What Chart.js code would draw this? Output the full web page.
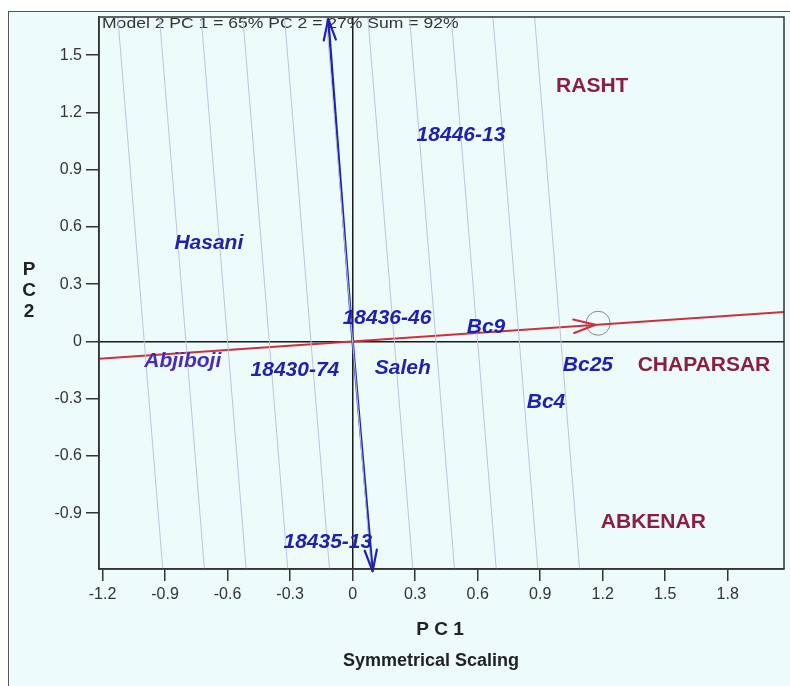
<!DOCTYPE html>
<html>
<head>
<meta charset="utf-8">
<title>GGE biplot - Symmetrical Scaling</title>
<script src="https://cdn.jsdelivr.net/npm/chart.js@4.4.1/dist/chart.umd.min.js"></script>
<style>
  html, body { margin: 0; padding: 0; background: #fff; }
  #wrap { position: relative; width: 790px; height: 686px; }
</style>
</head>
<body>
<div id="wrap"><canvas id="biplot" width="790" height="686"></canvas></div>
<script>
/* biplot data */
const xTicks = [-1.2, -0.9, -0.6, -0.3, 0, 0.3, 0.6, 0.9, 1.2, 1.5, 1.8];
const yTicks = [-0.9, -0.6, -0.3, 0, 0.3, 0.6, 0.9, 1.2, 1.5];
const xRange = [-1.217, 2.07];
const yRange = [-1.193, 1.70];

const genotypes = ['18446-13', 'Hasani', '18436-46', 'Bc9', 'Abjiboji', '18430-74', 'Saleh', 'Bc25', 'Bc4', '18435-13'];
const genoX = [0.52, -0.69, 0.165, 0.64, -0.815, -0.277, 0.241, 1.129, 0.928, -0.119];
const genoY = [1.083, 0.517, 0.123, 0.076, -0.102, -0.149, -0.139, -0.123, -0.317, -1.051];

const environments = ['RASHT', 'CHAPARSAR', 'ABKENAR'];
const envX = [1.15, 1.686, 1.443];
const envY = [1.336, -0.123, -0.947];

// average environment axis (red) and the two blue vectors
const redVec = [1.166, 0.087];
const blueUp = [-0.117, 1.69];
const blueDown = [0.096, -1.205];
const ringPoint = [1.178, 0.095];
// where the thin guide lines cut PC1 = axis at PC2 = 0
const guideCross = [-1.0, -0.8, -0.6, -0.4, -0.2, 0, 0.2, 0.4, 0.6, 0.8, 1.0];

const FONT = "'Liberation Sans', Arial, Helvetica, sans-serif";
const BLUE = '#1f22b0';
const RED = '#cf2f3f';
const MAROON = '#8c1f40';

const slope = redVec[1] / redVec[0];

// guide lines perpendicular to the red axis (in data units)
const guideSets = guideCross.map(c => ({
    data: [{ x: c - slope * yRange[1], y: yRange[1] }, { x: c - slope * yRange[0], y: yRange[0] }],
    showLine: true,
    borderColor: '#bcc6da',
    borderWidth: 1,
    pointRadius: 0
}));

function arrowHead(ctx, x0, y0, x1, y1, len, spread, color, width) {
    const ang = Math.atan2(y1 - y0, x1 - x0);
    ctx.save();
    ctx.strokeStyle = color;
    ctx.lineWidth = width;
    ctx.lineCap = 'round';
    ctx.lineJoin = 'round';
    ctx.beginPath();
    ctx.moveTo(x1 - len * Math.cos(ang - spread), y1 - len * Math.sin(ang - spread));
    ctx.lineTo(x1, y1);
    ctx.lineTo(x1 - len * Math.cos(ang + spread), y1 - len * Math.sin(ang + spread));
    ctx.stroke();
    ctx.restore();
}

const biplotDecor = {
    id: 'biplotDecor',
    beforeDraw(chart) {
        const { ctx, width, height } = chart;
        ctx.save();
        ctx.fillStyle = '#ffffff';
        ctx.fillRect(0, 0, width, height);
        ctx.fillStyle = '#edfbfb';
        ctx.fillRect(8, 11, width - 8, height - 11);
        ctx.strokeStyle = '#555';
        ctx.lineWidth = 1;
        ctx.strokeRect(8.5, 11.5, width, height);
        ctx.restore();
    },
    beforeDatasetsDraw(chart) {
        // header line, a bit wider than tall like in the original
        const ctx = chart.ctx;
        ctx.save();
        ctx.fillStyle = '#333';
        ctx.font = '15px ' + FONT;
        ctx.textBaseline = 'middle';
        ctx.textAlign = 'left';
        ctx.translate(102, 24);
        ctx.scale(1.17, 1);
        ctx.fillText('Model 2 PC 1 = 65% PC 2 = 27% Sum = 92%', 0, 0);
        ctx.restore();
    },
    afterDatasetsDraw(chart) {
        const ctx = chart.ctx;
        const xs = chart.scales.x, ys = chart.scales.y;
        const ox = xs.getPixelForValue(0), oy = ys.getPixelForValue(0);

        // arrow heads
        arrowHead(ctx, ox, oy, xs.getPixelForValue(redVec[0]), ys.getPixelForValue(redVec[1]), 23, 0.3, RED, 2);
        arrowHead(ctx, ox, oy, xs.getPixelForValue(blueUp[0]), ys.getPixelForValue(blueUp[1]), 22, 0.28, BLUE, 2.2);
        arrowHead(ctx, ox, oy, xs.getPixelForValue(blueDown[0]), ys.getPixelForValue(blueDown[1]), 22, 0.28, BLUE, 2.2);

        // labels
        ctx.save();
        ctx.textAlign = 'center';
        ctx.textBaseline = 'middle';
        ctx.font = 'italic bold 21px ' + FONT;
        genotypes.forEach((g, i) => {
            ctx.fillStyle = g === 'Abjiboji' ? '#4a2cba' : BLUE;
            ctx.fillText(g, xs.getPixelForValue(genoX[i]), ys.getPixelForValue(genoY[i]));
        });
        ctx.font = 'bold 21px ' + FONT;
        ctx.fillStyle = MAROON;
        environments.forEach((e, i) => {
            ctx.fillText(e, xs.getPixelForValue(envX[i]), ys.getPixelForValue(envY[i]));
        });
        ctx.restore();
    },
    afterDraw(chart) {
        const { ctx, chartArea: a } = chart;
        ctx.save();
        ctx.strokeStyle = '#333';
        ctx.lineWidth = 1.5;
        ctx.strokeRect(a.left, a.top, a.right - a.left, a.bottom - a.top);

        ctx.fillStyle = '#222';
        ctx.textAlign = 'center';
        ctx.textBaseline = 'middle';
        ctx.font = 'bold 19px ' + FONT;
        ctx.fillText('P C 1', 440, 630);
        ctx.font = 'bold 18px ' + FONT;
        ctx.fillText('Symmetrical Scaling', 431, 661);
        ctx.font = 'bold 19px ' + FONT;
        ['P', 'C', '2'].forEach((ch, i) => ctx.fillText(ch, 29, 270 + i * 21));
        ctx.restore();
    }
};

new Chart(document.getElementById('biplot'), {
    type: 'scatter',
    data: {
        datasets: [
            ...guideSets,
            {
                // red environment axis through the origin
                data: [{ x: xRange[0], y: slope * xRange[0] }, { x: xRange[1], y: slope * xRange[1] }],
                showLine: true, borderColor: RED, borderWidth: 2, pointRadius: 0
            },
            {
                data: [{ x: 0, y: 0 }, { x: blueUp[0], y: blueUp[1] }],
                showLine: true, borderColor: BLUE, borderWidth: 2.4, pointRadius: 0, clip: false
            },
            {
                data: [{ x: 0, y: 0 }, { x: blueDown[0], y: blueDown[1] }],
                showLine: true, borderColor: BLUE, borderWidth: 2.4, pointRadius: 0, clip: false
            },
            {
                data: [{ x: ringPoint[0], y: ringPoint[1] }],
                pointRadius: 12, pointBackgroundColor: 'rgba(0,0,0,0)',
                pointBorderColor: '#8a8a8a', pointBorderWidth: 1
            }
        ]
    },
    options: {
        responsive: false,
        animation: false,
        events: [],
        layout: { autoPadding: false, padding: { top: 17, right: 6, left: 0, bottom: 0 } },
        plugins: { legend: { display: false }, tooltip: { enabled: false } },
        scales: {
            x: {
                type: 'linear',
                min: xRange[0],
                max: xRange[1],
                afterBuildTicks: s => { s.ticks = xTicks.map(v => ({ value: v })); },
                afterFit: s => { s.height = 117; s.paddingLeft = 0; s.paddingRight = 0; },
                ticks: {
                    autoSkip: false, maxRotation: 0, padding: 4, color: '#333',
                    font: { family: FONT, size: 16 },
                    callback: v => v === 0 ? '0' : v.toFixed(1)
                },
                grid: {
                    color: c => (c.tick && c.tick.value === 0) ? '#1a1a1a' : 'rgba(0,0,0,0)',
                    lineWidth: 1.5,
                    tickColor: '#333',
                    tickLength: 12
                },
                border: { color: '#333', width: 1.5 }
            },
            y: {
                type: 'linear',
                min: yRange[0],
                max: yRange[1],
                afterBuildTicks: s => { s.ticks = yTicks.map(v => ({ value: v })); },
                afterFit: s => { s.width = 99; s.paddingTop = 0; s.paddingBottom = 0; },
                ticks: {
                    autoSkip: false, padding: 4, color: '#333',
                    font: { family: FONT, size: 16 },
                    callback: v => v === 0 ? '0' : v.toFixed(1)
                },
                grid: {
                    color: c => (c.tick && c.tick.value === 0) ? '#1a1a1a' : 'rgba(0,0,0,0)',
                    lineWidth: 1.5,
                    tickColor: '#333',
                    tickLength: 13
                },
                border: { color: '#333', width: 1.5 }
            }
        }
    },
    plugins: [biplotDecor]
});
</script>
</body>
</html>
